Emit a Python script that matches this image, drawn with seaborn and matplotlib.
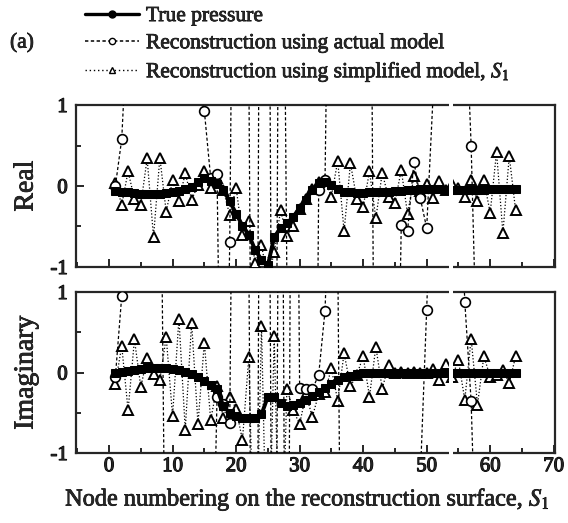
import numpy as np
import pandas as pd
import matplotlib
matplotlib.use("Agg")
import matplotlib.pyplot as plt
import matplotlib.patheffects as pe
from matplotlib.lines import Line2D
from matplotlib.patches import Rectangle
from matplotlib.ticker import MultipleLocator
import seaborn as sns

# ---------------- data ----------------
nodes = list(range(1, 65))

true_real = [-0.06, -0.07, -0.08, -0.09, -0.10, -0.10, -0.10, -0.10, -0.09, -0.08,
             -0.06, -0.04, -0.01, 0.05, 0.10, 0.06, 0.02, -0.05, -0.19, -0.34,
             -0.49, -0.60, -0.79, -0.91, -0.98, -0.63, -0.52, -0.46, -0.38, -0.27,
             -0.17, -0.05, 0.04, 0.05, 0.01, -0.04, -0.07, -0.08, -0.09, -0.09,
             -0.08, -0.08, -0.07, -0.07, -0.06, -0.06, -0.05, -0.05, -0.04, -0.04,
             -0.04, -0.04, -0.05, -0.05, -0.05, -0.05, -0.05, -0.05, -0.05, -0.04,
             -0.04, -0.04, -0.04, -0.04]

actual_real = [0.0, 0.58, 2.2, 3, 3, 3, 3, 3, 3, 3,
               3, 3, 3, 1.2, 0.93, 0.1, 0.15, -5.6, -0.69, 8,
               6, 1.5, -10, 10, 6, -8, 8, -1.2, -8, -8,
               -8, -9.5, -0.05, 0.07, 6, 6, 6, 6, 6, 6,
               6, -6, -6, -6, -5, -0.48, -0.55, 0.3, -0.15, -0.52,
               1.1, 4, 4, 4, 4, 2.5, 0.5, -2.5, -4, -4,
               -4, -4, -4, -4]

simp_real = [0.04, -0.23, 0.18, -0.16, -0.23, 0.34, -0.63, 0.35, -0.32, 0.07,
             -0.19, 0.16, -0.17, 0.01, 0.18, -0.02, 0.10, -0.05, -0.36, -0.02,
             -0.60, -0.43, -0.95, -0.73, -1.15, -0.82, -0.30, -0.62, -0.49, -0.29,
             -0.16, -0.04, 0.05, 0.07, -0.13, 0.31, -0.56, 0.28, -0.16, -0.26,
             0.18, -0.40, 0.16, -0.14, -0.21, 0.20, -0.35, 0.12, -0.06, 0.03,
             -0.15, 0.06, -0.05, 0.02, -0.03, -0.13, 0.07, -0.19, 0.07, -0.33,
             0.42, -0.58, 0.37, -0.30]

true_imag = [0.0, 0.01, 0.02, 0.03, 0.04, 0.05, 0.05, 0.06, 0.05, 0.04,
             0.03, 0.01, -0.02, -0.06, -0.11, -0.15, -0.20, -0.42, -0.50, -0.54,
             -0.56, -0.57, -0.56, -0.52, -0.30, -0.30, -0.38, -0.41, -0.40, -0.38,
             -0.34, -0.29, -0.24, -0.19, -0.14, -0.09, -0.06, -0.04, -0.02, -0.01,
             0.0, 0.0, 0.0, 0.0, 0.0, 0.0, 0.0, 0.0, 0.0, 0.0,
             0.0, 0.0, 0.0, -0.01, -0.01, -0.01, -0.01, -0.01, -0.01, -0.01,
             -0.01, -0.01, -0.01, -0.01]

actual_imag = [-0.05, 0.95, 4, 4, 4, 4, 4, 4, -4, -4,
               -4, -4, -4, -4, -4, -4, -0.31, -0.39, -0.63, 8,
               6, 1.5, -10, 10, 6, -8, 8, -8, 10, -0.19,
               -0.20, -0.21, -0.03, 0.77, 3, 1.5, -8, -5, -5, -5,
               -5, -5, -5, -5, -5, -5, -5, -5, -1.3, 0.78,
               3, 3, 3, 3, 3, 0.88, -0.36, -3, -3, -3,
               -3, -3, -3, -3]

simp_imag = [-0.14, 0.33, -0.47, 0.41, -0.18, 0.18, -0.02, -0.09, 0.44, -0.54,
             0.67, -0.71, 0.62, -0.64, 0.37, -0.59, -0.17, -0.57, -0.30, -0.45,
             -0.84, 0.19, -3, 0.58, -3, 0.45, -3, -0.20, -0.47, -0.64,
             -0.27, -0.55, -0.27, -0.24, 0.05, -0.35, 0.24, -0.17, -0.03, 0.20,
             -0.30, 0.32, -0.20, 0.09, 0.0, 0.01, 0.0, 0.01, -0.01, 0.0,
             0.04, -0.09, 0.10, -0.05, 0.15, -0.34, 0.42, -0.40, 0.20, -0.05,
             -0.03, 0.03, -0.13, 0.20]

labels = ["True pressure",
          "Reconstruction using actual model",
          "Reconstruction using simplified model, $S_1$"]
x_ticks = [0, 10, 20, 30, 40, 50, 60, 70]
y_ticks = [-1, 0, 1]
y_ticklabels = ["-1", "0", "1"]

# ---------------- style ----------------
sns.set_style("ticks")
plt.rcParams["font.family"] = ["Liberation Serif", "DejaVu Serif"]
plt.rcParams["mathtext.fontset"] = "stix"
plt.rcParams["axes.linewidth"] = 1.6

bold = [pe.withStroke(linewidth=0.8, foreground="black")]
semi = [pe.withStroke(linewidth=0.5, foreground="black")]

fig = plt.figure(figsize=(5.68, 5.23), dpi=100)
ax1 = fig.add_axes([0.1338, 0.4895, 0.8433, 0.3097])
ax2 = fig.add_axes([0.1338, 0.1338, 0.8433, 0.3079])

def draw(ax, tr, ac, si):
    sns.lineplot(x=nodes, y=si, ax=ax, color="black", linestyle=(0, (1, 1.6)),
                 lw=0.9, marker="^", markersize=7.2, markerfacecolor="white",
                 markeredgecolor="black", markeredgewidth=1.4, estimator=None,
                 zorder=3)
    sns.lineplot(x=nodes, y=ac, ax=ax, color="black", linestyle=(0, (2.5, 1.8)),
                 lw=0.9, marker="o", markersize=7, markerfacecolor="white",
                 markeredgecolor="black", markeredgewidth=1.2, estimator=None,
                 zorder=3)
    sns.lineplot(x=nodes, y=tr, ax=ax, color="black", linestyle="-",
                 lw=2.8, marker="s", markersize=5.6, markerfacecolor="black",
                 markeredgecolor="black", estimator=None, zorder=4)
    ax.set_xlim(-5.2, 70.2)
    ax.set_ylim(-1, 1)
    ax.set_xticks(x_ticks)
    ax.set_yticks(y_ticks)
    ax.set_yticklabels(y_ticklabels)
    ax.xaxis.set_minor_locator(MultipleLocator(5))
    ax.yaxis.set_minor_locator(MultipleLocator(0.5))
    ax.tick_params(which="both", direction="in", top=False, right=False,
                   width=1.4, labelsize=15)
    ax.tick_params(which="major", length=6)
    ax.tick_params(which="minor", length=3.5)
    ax.tick_params(axis="y", pad=6)
    ax.tick_params(axis="x", pad=3)
    for s in ax.spines.values():
        s.set_linewidth(1.6)
    for t in ax.get_xticklabels() + ax.get_yticklabels():
        t.set_path_effects(bold)
    # white gap in the scanned frame
    ax.add_patch(Rectangle((53.45, -0.03), 0.75, 1.06,
                           transform=ax.get_xaxis_transform(),
                           facecolor="white", edgecolor="none",
                           clip_on=False, zorder=10))

draw(ax1, true_real, actual_real, simp_real)
draw(ax2, true_imag, actual_imag, simp_imag)

ax1.tick_params(axis="x", labelbottom=False)
ax1.set_xlabel("")
ax1.set_ylabel("Real", fontsize=20, path_effects=semi)
ax2.set_ylabel("Imaginary", fontsize=20, path_effects=semi)
ax1.yaxis.set_label_coords(-0.078, 0.5)
ax2.yaxis.set_label_coords(-0.078, 0.5)
ax2.set_xlabel("Node numbering on the reconstruction surface, $S_1$",
               fontsize=17.5, path_effects=semi)
ax2.xaxis.set_label_coords(0.482, -0.215)

handles = [
    Line2D([], [], color="black", lw=2.4, marker="o", markersize=5,
           markerfacecolor="black"),
    Line2D([], [], color="black", lw=1.1, linestyle=(0, (2.2, 1.6)), marker="o",
           markersize=4.5, markerfacecolor="white", markeredgewidth=1.0),
    Line2D([], [], color="black", lw=1.0, linestyle=(0, (1, 2.0)), marker="^",
           markersize=4.5, markerfacecolor="white", markeredgewidth=1.0),
]
leg = fig.legend(handles, labels, loc="upper left",
                 bbox_to_anchor=(85 / 568, 1 - 6 / 523),
                 frameon=False, fontsize=15.5, handlelength=2.5, handletextpad=0.33,
                 labelspacing=0.33, borderpad=0, borderaxespad=0)
for t in leg.get_texts():
    t.set_path_effects(semi)
fig.text(10 / 568, 1 - 43 / 523, "(a)", fontsize=15.5, va="center", ha="left",
         path_effects=semi)

fig.savefig("out.png", dpi=100)
